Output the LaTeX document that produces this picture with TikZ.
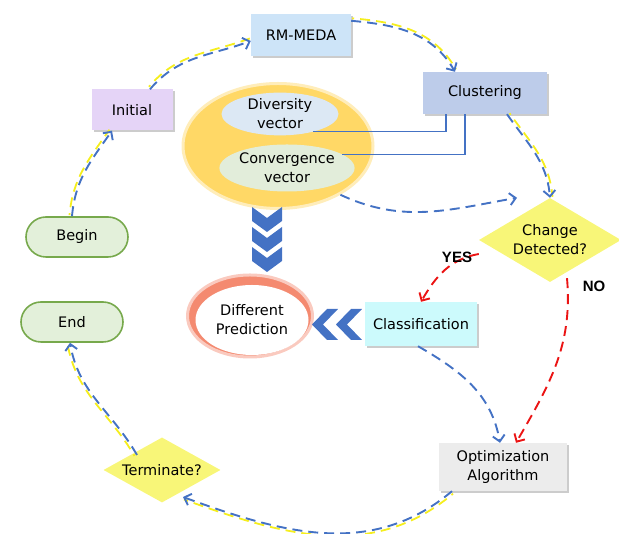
\documentclass[tikz,border=0pt]{standalone}
\usepackage{fontspec}
\setmainfont{DejaVu Sans}
\newfontfamily\lblfont{Liberation Sans}
\usetikzlibrary{arrows.meta,shapes.geometric,shadows}
\definecolor{arrBlue}{RGB}{68,114,196}
\definecolor{dashYel}{RGB}{245,238,30}
\definecolor{noRed}{RGB}{235,20,20}
\definecolor{rmBlue}{RGB}{205,228,248}
\definecolor{iniPur}{RGB}{229,212,247}
\definecolor{cluBlue}{RGB}{189,204,234}
\definecolor{clsCyan}{RGB}{204,250,252}
\definecolor{optGray}{RGB}{236,236,236}
\definecolor{chgYel}{RGB}{248,246,120}
\definecolor{bigGold}{RGB}{255,216,102}
\definecolor{divBlue}{RGB}{220,232,244}
\definecolor{convGreen}{RGB}{226,237,218}
\definecolor{begGreen}{RGB}{227,240,218}
\definecolor{begEdge}{RGB}{119,169,76}
\definecolor{predOr}{RGB}{244,138,112}

\begin{document}
\begin{tikzpicture}[x=1pt,y=1pt,font=\fontsize{14.5}{19}\selectfont]
  \tikzset{box/.style={fill=#1,inner sep=0pt,align=center,drop shadow={shadow xshift=2pt,shadow yshift=-2pt,fill=black!40}},
    term/.style={draw=begEdge,line width=1.6pt,fill=begGreen,rounded corners=20pt,minimum width=102pt,minimum height=40pt},
    dec/.style={diamond,fill=chgYel,inner sep=0pt,align=center,shape aspect=1.8},
    flow/.style={draw=arrBlue,line width=1.9pt,dash pattern=on 10pt off 6pt,-{Straight Barb[length=6pt,width=12pt]}},
    yel/.style={preaction={draw=dashYel,line width=1.8pt,arrows=-,dash phase=8pt,transform canvas={shift={#1}}}},
    nope/.style={draw=noRed,line width=1.9pt,dash pattern=on 10pt off 6pt,-{Straight Barb[length=6pt,width=12pt]}}}
  \useasboundingbox (0,0) rectangle (619,534);
  % boxes
  \node[box=rmBlue,minimum width=100pt,minimum height=42pt] (rmmeda) at (301,499) {RM-MEDA};
  \node[box=iniPur,minimum width=81pt,minimum height=41pt] (initial) at (132,424) {Initial};
  \node[box=cluBlue,minimum width=124pt,minimum height=42pt] (clust) at (485,441) {Clustering};
  \node[box=clsCyan,minimum width=112pt,minimum height=44pt] (classif) at (421,210) {Classification};
  \node[box=optGray,minimum width=128pt,minimum height=48pt] (optim) at (503,67) {Optimization\\Algorithm};
  \node[term] (begin) at (77,297) {Begin};
  \node[term] (end) at (72,212) {End};
  \node[dec,minimum width=142pt,minimum height=84pt] (change) at (550,294) {Change\\Detected?};
  \node[dec,minimum width=117pt,minimum height=65pt] (termin) at (162,64) {Terminate?};
  % centre group
  \node[ellipse,fill=bigGold,draw=bigGold!45,line width=3pt,minimum width=190pt,minimum height=125pt] (vecs) at (278,388) {};
  \node[ellipse,fill=divBlue,inner sep=0pt,align=center,minimum width=117pt,minimum height=42pt] (divers) at (280,420) {Diversity\\vector};
  \node[ellipse,fill=convGreen,inner sep=0pt,align=center,minimum width=116pt,minimum height=47pt] (conver) at (287,366) {Convergence\\vector};
  \node[ellipse,fill=predOr,draw=predOr!45,line width=3pt,minimum width=125pt,minimum height=82pt] (pred) at (250,218) {};
  \node[ellipse,fill=white,inner sep=0pt,align=center,minimum width=113pt,minimum height=70pt] (predin) at (252,214) {Different\\Prediction};
  % chevrons
  \foreach \i in {0,1,2} {
    \fill[arrBlue] (252,327-20*\i) -- (267,316-20*\i) -- (282,327-20*\i) -- (282,313-20*\i) -- (267,302-20*\i) -- (252,313-20*\i) -- cycle;
  }
  \foreach \i in {0,1} {
    \fill[arrBlue] (312+24*\i,209.5) -- (327+24*\i,225) -- (338+24*\i,225) -- (323+24*\i,209.5) -- (338+24*\i,194) -- (327+24*\i,194) -- cycle;
  }
  % links to clustering
  \draw[arrBlue,line width=1.2pt] (divers.-28) -| ([xshift=-39pt]clust.south);
  \draw[arrBlue,line width=1.2pt] (conver.14) -| ([xshift=-20pt]clust.south);
  % cycle
  \draw[flow,yel={(-2.5pt,1pt)}] ([xshift=-5pt]begin.north) to[out=85,in=235] ([xshift=-20pt]initial.south);
  \draw[flow,yel={(-1pt,2.5pt)}] ([xshift=18pt]initial.north) to[out=50,in=200] ([yshift=-6pt]rmmeda.west);
  \draw[flow,yel={(1pt,2.5pt)}] ([yshift=-7pt]rmmeda.north east) to[out=-5,in=120] ([xshift=-30pt]clust.north);
  \draw[flow,yel={(2.5pt,1pt)}] ([xshift=22pt]clust.south) to[out=-55,in=95] (change.north);
  \draw[flow] (vecs.-38) to[out=-25,in=190] ([xshift=-33pt]change.north);
  \draw[nope] ([yshift=-14pt]change.west) to[out=190,in=60] (classif.north);
  \draw[nope] ([xshift=17pt,yshift=4pt]change.south) to[out=-85,in=60] ([xshift=13pt]optim.north);
  \draw[flow] ([xshift=-3pt]classif.south) to[out=-30,in=100] ([xshift=-3pt]optim.north);
  \draw[flow,yel={(1pt,-2.5pt)}] ([xshift=-51pt]optim.south) to[out=-140,in=-20] ([xshift=21pt,yshift=-27pt]termin.center);
  \draw[flow,yel={(-2.5pt,-1pt)}] ([xshift=-25pt,yshift=15pt]termin.center) to[out=120,in=-80] ([xshift=-2pt]end.south);
  \node[font=\lblfont\bfseries\fontsize{15}{15}\selectfont] (yes) at (457,277) {YES};
  \node[font=\lblfont\bfseries\fontsize{15}{15}\selectfont] (no) at (594,248) {NO};
\end{tikzpicture}
\end{document}
